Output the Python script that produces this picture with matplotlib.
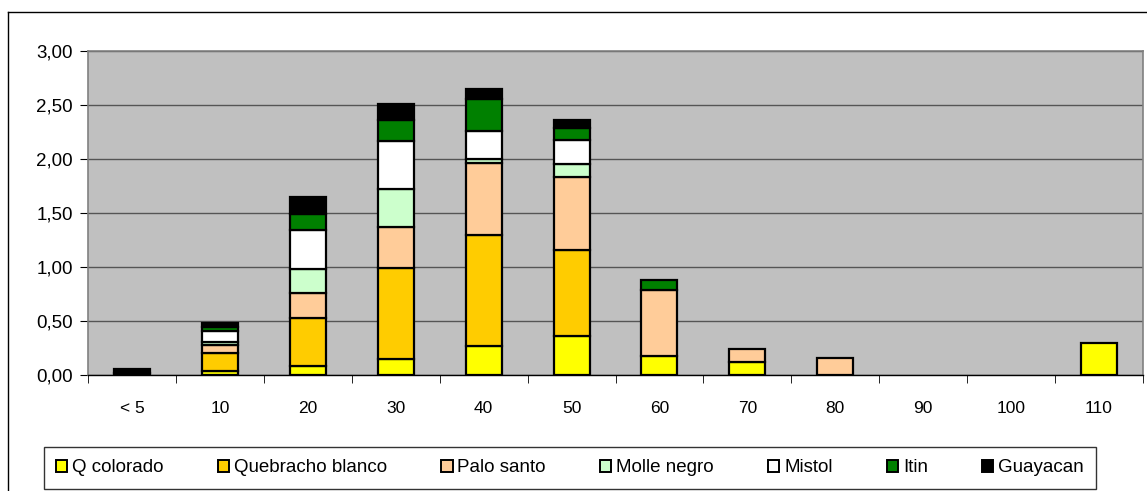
import numpy as np
import matplotlib.pyplot as plt
from matplotlib.lines import Line2D
from matplotlib.ticker import FixedLocator, FuncFormatter

plt.rcParams['font.family'] = ['Liberation Sans', 'DejaVu Sans']

# clases diametricas
clases = ['< 5', '10', '20', '30', '40', '50', '60', '70', '80', '90', '100', '110']

# area basal por especie y clase
q_colorado = [0.02, 0.04, 0.08, 0.15, 0.27, 0.36, 0.18, 0.12, 0.00, 0.00, 0.00, 0.30]
quebracho_blanco = [0.00, 0.16, 0.45, 0.84, 1.03, 0.80, 0.00, 0.00, 0.00, 0.00, 0.00, 0.00]
palo_santo = [0.00, 0.08, 0.23, 0.38, 0.66, 0.67, 0.61, 0.12, 0.16, 0.00, 0.00, 0.00]
molle_negro = [0.00, 0.03, 0.22, 0.35, 0.04, 0.12, 0.00, 0.00, 0.00, 0.00, 0.00, 0.00]
mistol = [0.00, 0.10, 0.36, 0.45, 0.26, 0.23, 0.00, 0.00, 0.00, 0.00, 0.00, 0.00]
itin = [0.00, 0.03, 0.15, 0.19, 0.30, 0.11, 0.09, 0.00, 0.00, 0.00, 0.00, 0.00]
guayacan = [0.04, 0.04, 0.16, 0.15, 0.09, 0.07, 0.00, 0.00, 0.00, 0.00, 0.00, 0.00]

especies = ['Q colorado', 'Quebracho blanco', 'Palo santo', 'Molle negro',
            'Mistol', 'Itin', 'Guayacan']
series = [q_colorado, quebracho_blanco, palo_santo, molle_negro, mistol, itin, guayacan]
colores = ['#FFFF00', '#FFCC00', '#FFCC99', '#CCFFCC', '#FFFFFF', '#008000', '#000000']

fig = plt.figure(figsize=(11.47, 4.91), dpi=100)
ax = fig.add_axes([88 / 1147, 116 / 491, 1055 / 1147, 324 / 491])
ax.set_facecolor('#C0C0C0')

x = np.arange(len(clases))
base = np.zeros(len(clases))
for nombre, valores, color in zip(especies, series, colores):
    valores = np.array(valores)
    hay = valores > 0  # sin segmentos vacios
    ax.bar(x[hay], valores[hay], width=0.41, bottom=base[hay], color=color,
           edgecolor='black', linewidth=1.6, label=nombre, zorder=3)
    base += valores

ax.set_xlim(-0.5, len(clases) - 0.5)
ax.set_ylim(0, 3)
ax.yaxis.set_major_locator(FixedLocator(np.arange(0, 3.01, 0.5)))
ax.yaxis.set_major_formatter(FuncFormatter(lambda v, p: f'{v:.2f}'.replace('.', ',')))
ax.grid(axis='y', color='#555555', linewidth=1, zorder=1)

ax.set_xticks(x)
ax.set_xticklabels(clases)
ax.xaxis.set_minor_locator(FixedLocator(np.arange(-0.5, len(clases), 1.0)))
ax.tick_params(axis='x', which='major', length=0, labelsize=12.5, pad=19)
ax.tick_params(axis='x', which='minor', length=6, direction='out', color='black')
ax.tick_params(axis='y', length=6, direction='out', labelsize=13.5, color='black', pad=5)

for lado in ['top', 'right', 'left']:
    ax.spines[lado].set_color('#808080')
    ax.spines[lado].set_linewidth(1.2)
ax.spines['bottom'].set_color('black')
ax.spines['bottom'].set_linewidth(1)

# borde exterior del grafico
fig.add_artist(Line2D([8 / 1147, 1.0], [1 - 12 / 491, 1 - 12 / 491],
                      transform=fig.transFigure, color='black', linewidth=1))
fig.add_artist(Line2D([8 / 1147, 8 / 1147], [0, 1 - 12 / 491],
                      transform=fig.transFigure, color='black', linewidth=1))

leg = fig.legend(loc='center', ncol=7, bbox_to_anchor=(570 / 1147, 1 - 468 / 491),
                 fontsize=13.5, frameon=True, fancybox=False, edgecolor='black',
                 handlelength=0.6, handleheight=0.6, handletextpad=0.25,
                 columnspacing=2.9, borderpad=0.65)
leg.get_frame().set_linewidth(1)
for h in leg.legend_handles:
    h.set_linewidth(1.4)

fig.savefig('out.png', dpi=100)
